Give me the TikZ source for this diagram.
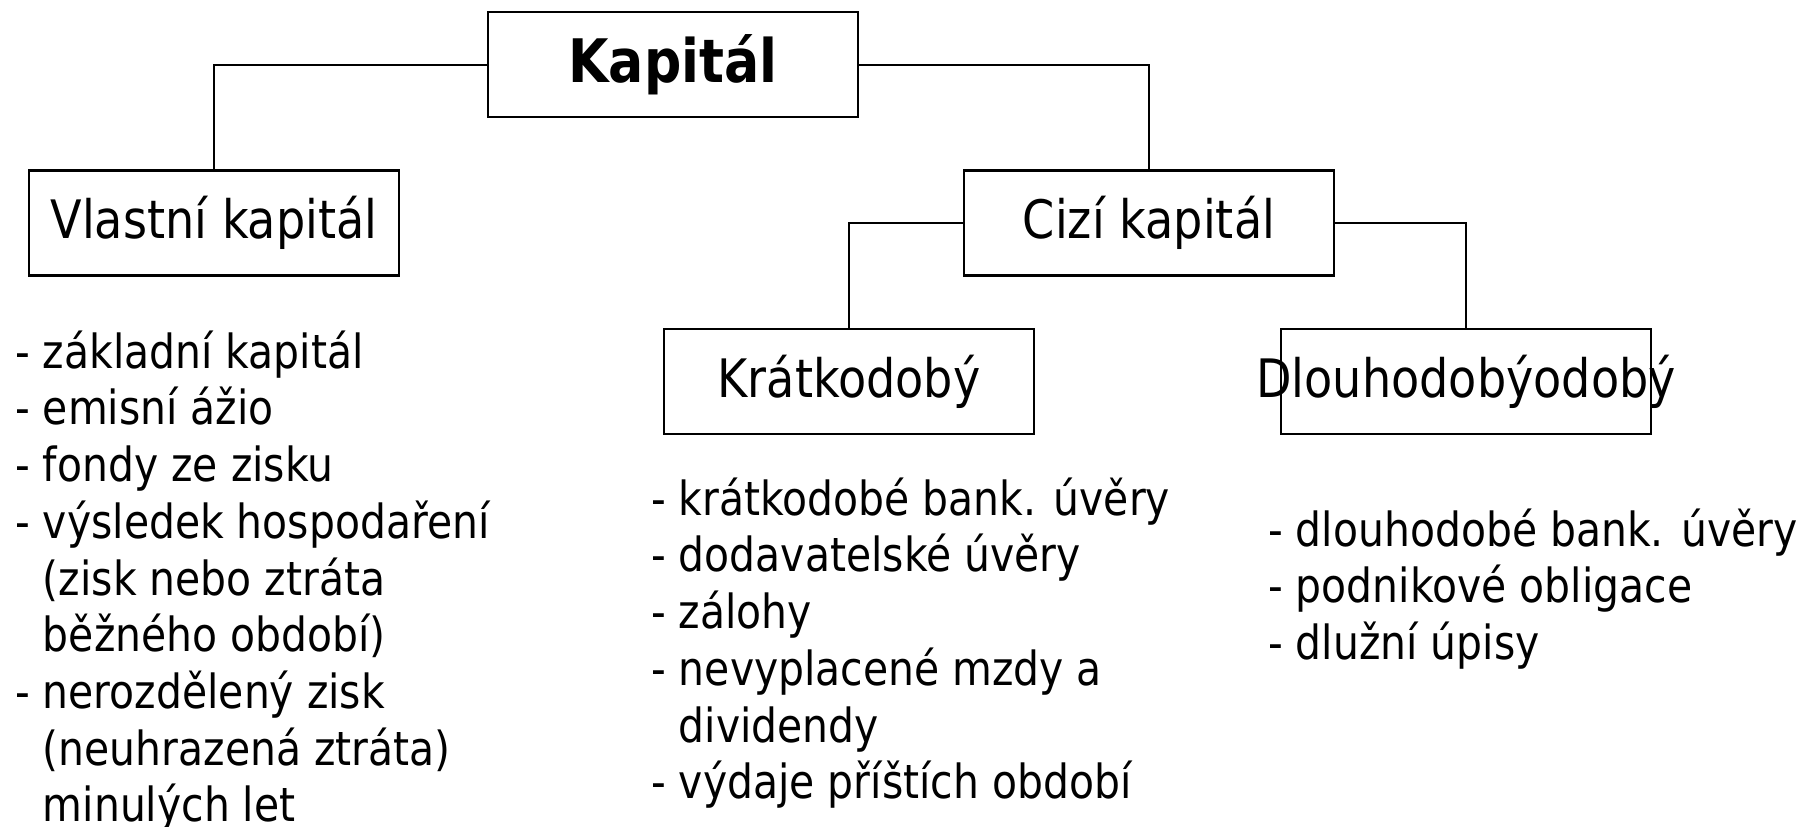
\documentclass[tikz,border=0pt]{standalone}
\usepackage{fontspec}
\setmainfont{DejaVu Sans}[FakeStretch=0.87]
\begin{document}
\begin{tikzpicture}[x=1pt,y=-1pt,
  box/.style={draw,line width=2.8pt,minimum width=370pt,minimum height=105pt,inner sep=0pt,
    font=\fontsize{53}{62}\selectfont},
  conn/.style={line width=2pt},
  list/.style={anchor=north west,inner sep=0pt,align=left,font=\fontsize{47}{56.7}\selectfont}]
\useasboundingbox (0,0) rectangle (1816,827);
\node[box,font=\fontsize{60}{70}\selectfont\bfseries] (kap) at (673,64.5) {\raisebox{-4pt}{Kapitál}};
\node[box] (vl) at (214,223) {Vlastní kapitál};
\node[box] (ci) at (1149,223) {Cizí kapitál};
\node[box] (kr) at (849,381.5) {Krátkodobý};
\node[box] (dl) at (1466,381.5) {\makebox[0pt][c]{Dlouhodobýodobý}};
\draw[conn] (kap.west) -| (vl.north);
\draw[conn] (kap.east) -| (ci.north);
\draw[conn] (ci.west) -| (kr.north);
\draw[conn] (ci.east) -| (dl.north);
\node[list] (vlist) at (15,323) {\rule{0pt}{45pt}- základní kapitál\\
- emisní ážio\\
- fondy ze zisku\\
- výsledek hospodaření\\
\hphantom{- }(zisk nebo ztráta\\
\hphantom{- }běžného období)\\
- nerozdělený zisk\\
\hphantom{- }(neuhrazená ztráta)\\
\hphantom{- }minulých let};
\node[list] (klist) at (651,470) {\rule{0pt}{45pt}- krátkodobé bank. úvěry\\
- dodavatelské úvěry\\
- zálohy\\
- nevyplacené mzdy a\\
\hphantom{- }dividendy\\
- výdaje příštích období};
\node[list] (dlist) at (1268,501) {\rule{0pt}{45pt}- dlouhodobé bank. úvěry\\
- podnikové obligace\\
- dlužní úpisy};
\end{tikzpicture}
\end{document}
